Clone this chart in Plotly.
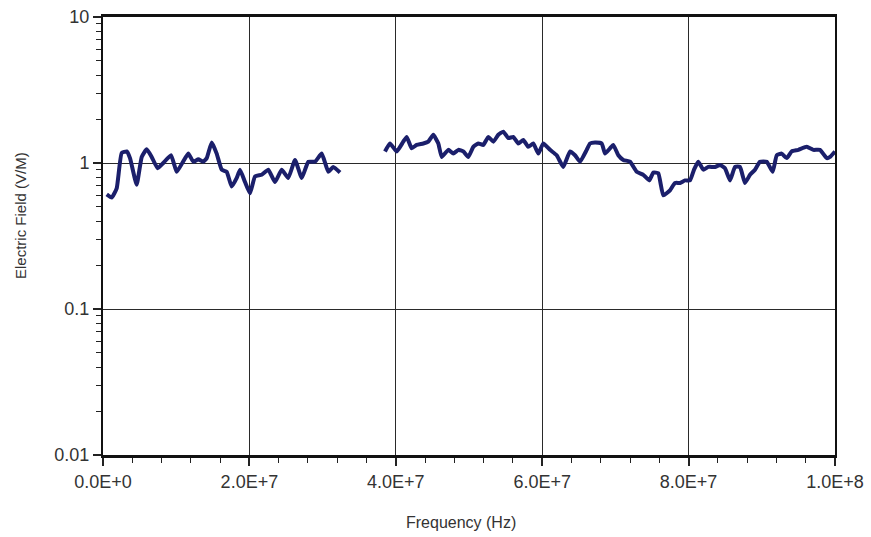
import plotly.graph_objects as go

# Frequency (MHz) and electric field (V/M); None marks the gap
freq_mhz = [0.51, 1.19, 1.87, 2.55, 3.24, 3.69, 4.60, 5.29, 5.97, 6.65, 7.47, 8.24, 9.29,
            10.07, 10.83, 11.65, 12.34, 13.02, 13.70, 14.17, 14.85, 15.53, 16.22, 16.90,
            17.58, 18.27, 18.72, 19.40, 20.08, 20.77, 21.68, 22.58, 23.50, 24.41, 25.31,
            26.23, 27.15, 28.05, 28.96, 29.88, 30.78, 31.46, 32.38,
            35.0,
            38.52, 39.21, 40.12, 41.02, 41.49, 42.17, 42.85, 43.76, 44.44, 45.12, 45.81,
            46.27, 47.17, 47.86, 48.54, 49.22, 49.90, 50.59, 51.27, 51.95, 52.64, 53.32,
            54.00, 54.69, 55.37, 56.05, 56.74, 57.42, 58.10, 58.78, 59.47, 60.15, 61.07,
            61.98, 62.88, 63.80, 64.48, 65.16, 66.08,
            66.53, 67.21, 68.13, 68.58, 69.26, 69.71, 70.40, 71.08, 71.99, 72.91, 73.81,
            74.63, 75.18, 75.86, 76.54, 77.46, 78.14, 78.83, 79.51, 80.19, 80.74, 81.32,
            82.01, 82.69, 83.61, 84.29, 84.97, 85.66, 86.34, 87.02, 87.70, 88.39, 89.07,
            89.75, 90.67, 91.49, 92.04, 92.72, 93.40, 94.08, 94.99, 96.13, 97.04, 97.95,
            98.87, 99.32, 100.0]
efield = [0.61, 0.58, 0.67, 1.17, 1.20, 1.08, 0.71, 1.10, 1.24, 1.10, 0.92, 1.00, 1.13,
          0.87, 1.00, 1.16, 1.02, 1.06, 1.02, 1.08, 1.38, 1.16, 0.90, 0.87,
          0.69, 0.79, 0.90, 0.74, 0.62, 0.81, 0.83, 0.90, 0.74, 0.90, 0.79,
          1.05, 0.79, 1.02, 1.02, 1.16, 0.87, 0.94, 0.86,
          None,
          1.20, 1.36, 1.20, 1.40, 1.51, 1.26, 1.33, 1.36, 1.40, 1.56, 1.36,
          1.10, 1.23, 1.16, 1.23, 1.20, 1.10, 1.29, 1.36, 1.33, 1.51, 1.40,
          1.56, 1.64, 1.48, 1.51, 1.36, 1.44, 1.29, 1.36, 1.16, 1.36, 1.23,
          1.13, 0.94, 1.20, 1.13, 1.02, 1.23,
          1.36, 1.38, 1.36, 1.16, 1.26, 1.33, 1.13, 1.05, 1.02, 0.87, 0.83,
          0.76, 0.86, 0.85, 0.60, 0.65, 0.73, 0.73, 0.76, 0.76, 0.90, 1.02,
          0.90, 0.94, 0.94, 0.97, 0.92, 0.76, 0.94, 0.94, 0.73, 0.83, 0.90,
          1.02, 1.02, 0.87, 1.13, 1.16, 1.08, 1.20, 1.23, 1.29, 1.23, 1.23,
          1.08, 1.10, 1.20]
freq_hz = [f * 1e6 if f is not None else None for f in freq_mhz]

x_tickvals = [0, 2e7, 4e7, 6e7, 8e7, 1e8]
x_ticktext = ["0.0E+0", "2.0E+7", "4.0E+7", "6.0E+7", "8.0E+7", "1.0E+8"]
y_tickvals = [0.01, 0.1, 1, 10]
y_ticktext = ["0.01", "0.1", "1", "10"]
y_minor = [m * d for d in (0.01, 0.1, 1) for m in range(2, 10)]
x_minor = [i * 4e6 for i in range(0, 26)]

fig = go.Figure()
fig.add_trace(go.Scatter(
    x=freq_hz, y=efield, mode="lines", connectgaps=False,
    line=dict(color="#1b1f6b", width=4, shape="spline", smoothing=0.4),
    showlegend=False, hoverinfo="skip"))

font = "Liberation Sans, Arial, Helvetica, sans-serif"
fig.update_layout(
    width=871, height=537,
    margin=dict(l=103, r=36, t=17, b=82, autoexpand=False),
    paper_bgcolor="white", plot_bgcolor="white",
    font=dict(family=font, color="#333333"),
    xaxis=dict(
        range=[0, 1e8], tickvals=x_tickvals, ticktext=x_ticktext,
        tickfont=dict(size=18, color="#333333"), automargin=False,
        ticks="outside", ticklen=8, tickwidth=1.5, tickcolor="#222222",
        minor=dict(tickvals=x_minor, ticks="outside", ticklen=5, tickwidth=1.2,
                   tickcolor="#222222", showgrid=False),
        showgrid=True, gridcolor="#2a2a2a", gridwidth=1.4,
        showline=True, linecolor="#111111", linewidth=3, mirror=True,
        zeroline=False,
    ),
    yaxis=dict(
        type="log", range=[-2, 1], tickvals=y_tickvals, ticktext=y_ticktext,
        tickfont=dict(size=18, color="#333333"), automargin=False,
        ticks="outside", ticklen=8, tickwidth=1.5, tickcolor="#222222",
        minor=dict(tickvals=y_minor, ticks="outside", ticklen=5, tickwidth=1.2,
                   tickcolor="#222222", showgrid=False),
        showgrid=True, gridcolor="#2a2a2a", gridwidth=1.4,
        showline=True, linecolor="#111111", linewidth=2, mirror=True,
        zeroline=False,
    ),
    annotations=[
        dict(text="Frequency (Hz)", xref="paper", yref="paper",
             x=(461 - 103) / 732, y=-(522 - 455) / 438, showarrow=False,
             xanchor="center", yanchor="middle",
             font=dict(size=16, color="#333333", family=font)),
        dict(text="Electric Field (V/M)", xref="paper", yref="paper",
             x=-(103 - 20) / 732, y=(455 - 216) / 438, showarrow=False,
             textangle=-90, xanchor="center", yanchor="middle",
             font=dict(size=15, color="#333333", family=font)),
    ],
)

fig.write_html("out.html")
